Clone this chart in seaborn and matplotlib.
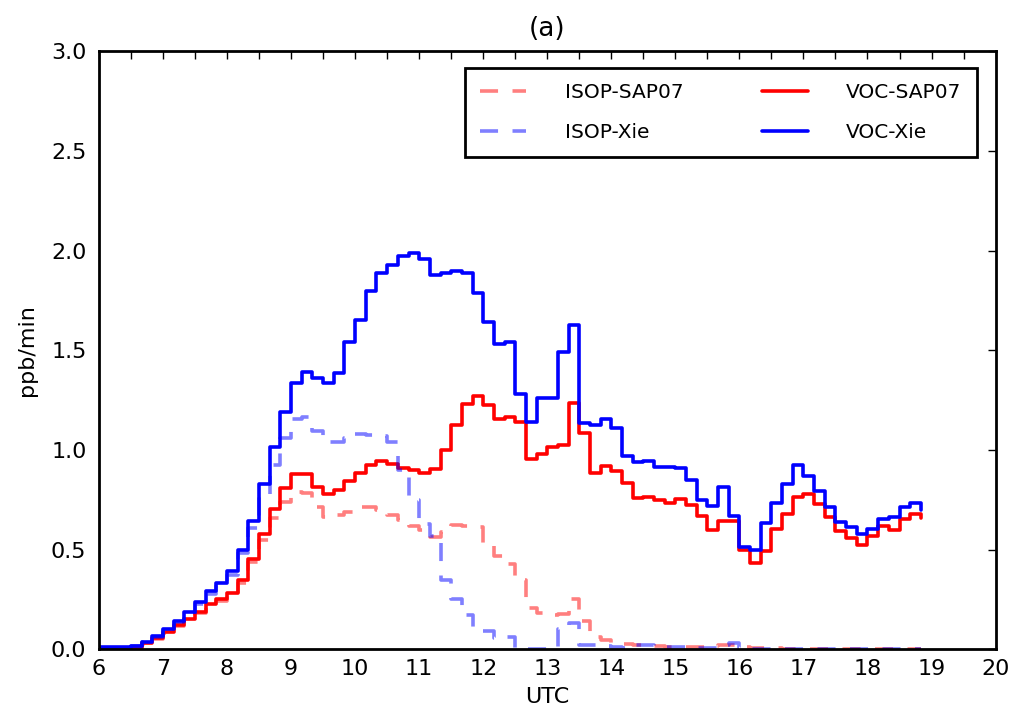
import numpy as np
import pandas as pd
import matplotlib
matplotlib.use("Agg")
import matplotlib.pyplot as plt
from matplotlib.ticker import MultipleLocator, FormatStrFormatter
import seaborn as sns

# 10-minute model output, 06:00 to 18:50 UTC
t_start, t_step = 6.0, 1.0 / 6.0

voc_xie = [0.01, 0.01, 0.013, 0.018, 0.038, 0.067, 0.10, 0.144, 0.186, 0.239,
           0.293, 0.334, 0.393, 0.498, 0.645, 0.828, 1.017, 1.192, 1.335, 1.393,
           1.36, 1.338, 1.385, 1.54, 1.65, 1.80, 1.89, 1.93, 1.973, 1.99,
           1.958, 1.88, 1.89, 1.898, 1.887, 1.786, 1.64, 1.53, 1.54, 1.28,
           1.142, 1.262, 1.262, 1.49, 1.627, 1.137, 1.125, 1.155, 1.112, 0.971,
           0.941, 0.946, 0.913, 0.913, 0.908, 0.849, 0.749, 0.719, 0.816, 0.669,
           0.512, 0.498, 0.632, 0.736, 0.829, 0.925, 0.87, 0.796, 0.716, 0.64,
           0.612, 0.579, 0.604, 0.652, 0.665, 0.712, 0.733, 0.70]

voc_sap07 = [0.0, 0.0, 0.005, 0.01, 0.03, 0.058, 0.088, 0.122, 0.152, 0.189,
             0.226, 0.251, 0.284, 0.348, 0.453, 0.578, 0.702, 0.811, 0.88, 0.878,
             0.816, 0.778, 0.80, 0.846, 0.886, 0.925, 0.946, 0.93, 0.908, 0.90,
             0.883, 0.903, 1.0, 1.125, 1.231, 1.271, 1.226, 1.154, 1.164, 1.142,
             0.955, 0.98, 1.013, 1.025, 1.234, 1.087, 0.886, 0.921, 0.896, 0.833,
             0.758, 0.766, 0.749, 0.736, 0.753, 0.724, 0.669, 0.599, 0.644, 0.644,
             0.498, 0.432, 0.495, 0.602, 0.679, 0.763, 0.779, 0.729, 0.662, 0.594,
             0.557, 0.523, 0.57, 0.619, 0.60, 0.654, 0.679, 0.66]

isop_sap07 = [0.0, 0.0, 0.004, 0.009, 0.027, 0.054, 0.083, 0.115, 0.145, 0.18,
              0.215, 0.24, 0.272, 0.335, 0.44, 0.548, 0.657, 0.741, 0.79, 0.783,
              0.716, 0.665, 0.675, 0.69, 0.716, 0.716, 0.70, 0.674, 0.65, 0.62,
              0.60, 0.565, 0.59, 0.624, 0.62, 0.615, 0.532, 0.47, 0.43, 0.35,
              0.206, 0.18, 0.172, 0.175, 0.25, 0.14, 0.06, 0.045, 0.03, 0.025,
              0.021, 0.02, 0.015, 0.013, 0.012, 0.01, 0.01, 0.015, 0.02, 0.02,
              0.01, 0.006, 0.005, 0.005, 0.004, 0.004, 0.004, 0.004, 0.003, 0.003,
              0.003, 0.003, 0.003, 0.003, 0.003, 0.003, 0.003, 0.003]

isop_xie = [0.005, 0.008, 0.012, 0.017, 0.035, 0.063, 0.095, 0.138, 0.178, 0.228,
            0.28, 0.32, 0.375, 0.482, 0.607, 0.78, 0.925, 1.059, 1.154, 1.167,
            1.095, 1.04, 1.039, 1.06, 1.08, 1.075, 1.07, 1.04, 0.90, 0.75,
            0.627, 0.568, 0.35, 0.25, 0.17, 0.108, 0.09, 0.058, 0.06, 0.004,
            0.003, 0.003, 0.003, 0.10, 0.13, 0.02, 0.02, 0.015, 0.01, 0.008,
            0.02, 0.02, 0.015, 0.01, 0.013, 0.008, 0.005, 0.005, 0.02, 0.03,
            0.008, 0.004, 0.004, 0.004, 0.004, 0.004, 0.004, 0.004, 0.004, 0.004,
            0.004, 0.004, 0.004, 0.004, 0.004, 0.004, 0.004, 0.004]

utc = t_start + t_step * np.arange(len(voc_xie))

df = pd.DataFrame({"UTC": utc, "ISOP-SAP07": isop_sap07, "ISOP-Xie": isop_xie,
                   "VOC-SAP07": voc_sap07, "VOC-Xie": voc_xie})

x_ticks = list(range(6, 21))
y_ticks = [0.0, 0.5, 1.0, 1.5, 2.0, 2.5, 3.0]

sns.set_style("white")
plt.rcParams["font.family"] = ["DejaVu Sans"]
plt.rcParams["text.color"] = "black"
plt.rcParams["axes.labelcolor"] = "black"
plt.rcParams["xtick.color"] = "black"
plt.rcParams["ytick.color"] = "black"

fig = plt.figure(figsize=(10.16, 7.17), dpi=100)
ax = fig.add_axes([0.0974, 0.0944, 0.8825, 0.834])

series = [
    ("ISOP-SAP07", "#ff0000", (0, (5, 4)), 0.5),
    ("VOC-SAP07", "#ff0000", "-", 1.0),
    ("ISOP-Xie", "#0000ff", (0, (5, 4)), 0.5),
    ("VOC-Xie", "#0000ff", "-", 1.0),
]
handles = {}
for name, color, ls, alpha in series:
    sns.lineplot(data=df, x="UTC", y=name, ax=ax, color=color, linestyle=ls,
                 alpha=alpha, linewidth=2.6, drawstyle="steps-post",
                 estimator=None, label=name)
    handles[name] = ax.get_lines()[-1]

ax.set_xlim(6, 20)
ax.set_ylim(0, 3.0)
ax.set_xticks(x_ticks)
ax.xaxis.set_minor_locator(MultipleLocator(0.5))
ax.set_yticks(y_ticks)
ax.yaxis.set_major_formatter(FormatStrFormatter("%.1f"))
ax.tick_params(which="both", direction="in", top=True, right=True,
               length=6, width=1, labelsize=16, color="black",
               labelcolor="black")
ax.tick_params(axis="x", pad=7)
ax.tick_params(axis="y", pad=9)
for s in ax.spines.values():
    s.set_color("black")
    s.set_linewidth(2)

ax.set_xlabel("UTC", fontsize=16, labelpad=6)
ax.set_ylabel("ppb/min", fontsize=16, labelpad=10)
ax.set_title("(a)", fontsize=19, pad=11)

order = ["ISOP-SAP07", "ISOP-Xie", "VOC-SAP07", "VOC-Xie"]
leg = ax.legend([handles[n] for n in order], order, ncol=2, loc="upper right",
                bbox_to_anchor=(0.979, 0.972), borderaxespad=0, fontsize=14.5,
                handlelength=2.3, handletextpad=1.9, columnspacing=3.9,
                labelspacing=1.05, borderpad=0.75, fancybox=False, framealpha=1)
leg.get_frame().set_edgecolor("black")
leg.get_frame().set_linewidth(2)

fig.savefig("out.png", dpi=100, facecolor="white")
